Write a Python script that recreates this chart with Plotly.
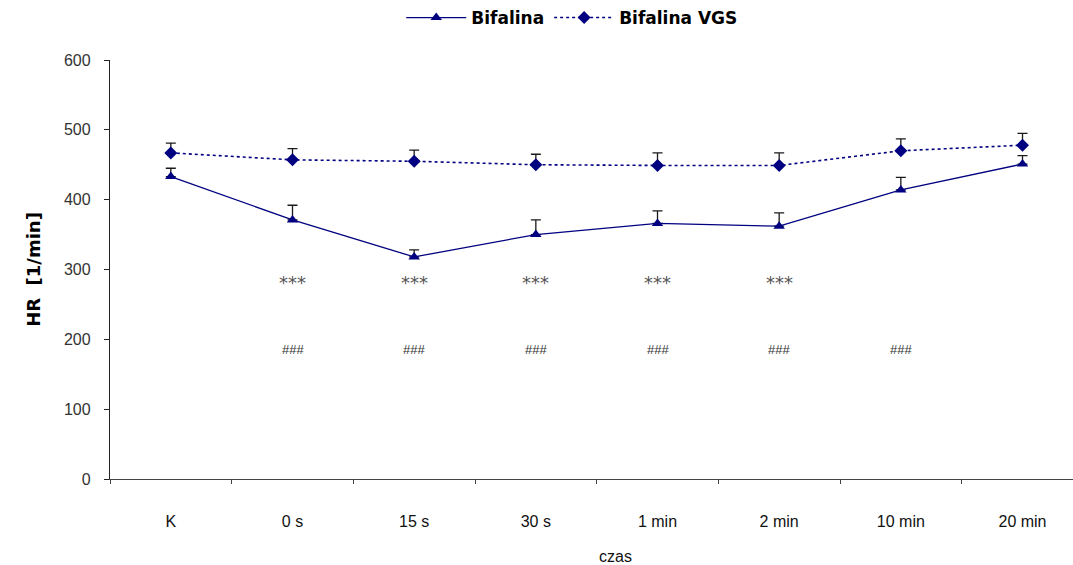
import plotly.graph_objects as go

# Heart rate over time after Bifalina administration
categories = ["K", "0 s", "15 s", "30 s", "1 min", "2 min", "10 min", "20 min"]

bifalina = [433, 371, 318, 350, 366, 362, 414, 451]
bifalina_sem = [12, 21, 10, 21, 18, 19, 18, 12]

bifalina_vgs = [467, 457, 455, 450, 449, 449, 470, 478]
bifalina_vgs_sem = [14, 16, 16, 15, 18, 18, 17, 17]

# significance markers
stars_cats = ["0 s", "15 s", "30 s", "1 min", "2 min"]
stars_level = 281
hash_cats = ["0 s", "15 s", "30 s", "1 min", "2 min", "10 min"]
hash_level = 185

y_ticks = [0, 100, 200, 300, 400, 500, 600]

NAVY = "#000080"

fig = go.Figure()

fig.add_trace(go.Scatter(
    x=categories, y=bifalina, name="Bifalina",
    mode="lines+markers",
    line=dict(color=NAVY, width=1.3),
    marker=dict(symbol="triangle-up", size=10, color=NAVY),
    error_y=dict(type="data", array=bifalina_sem, arrayminus=[0] * len(bifalina_sem),
                 symmetric=False, color="#1a1a1a", thickness=1.3, width=5),
))

fig.add_trace(go.Scatter(
    x=categories, y=bifalina_vgs, name="Bifalina VGS",
    mode="lines+markers",
    line=dict(color=NAVY, width=1.6, dash="dot"),
    marker=dict(symbol="diamond", size=10, color=NAVY),
    error_y=dict(type="data", array=bifalina_vgs_sem, arrayminus=[0] * len(bifalina_vgs_sem),
                 symmetric=False, color="#1a1a1a", thickness=1.3, width=5),
))

annotations = []
for c in stars_cats:
    annotations.append(dict(x=c, y=stars_level, xref="x", yref="y", text="***",
                            showarrow=False, yanchor="middle",
                            font=dict(family="DejaVu Sans", size=18, color="#555555")))
for c in hash_cats:
    annotations.append(dict(x=c, y=hash_level, xref="x", yref="y", text="###",
                            showarrow=False, yanchor="middle",
                            font=dict(family="Liberation Sans", size=13, color="#333333")))

annotations.append(dict(x=0.525, y=-0.186, xref="paper", yref="paper", text="czas",
                        showarrow=False, yanchor="middle",
                        font=dict(family="Liberation Sans", size=16, color="#111111")))

fig.update_layout(
    width=1073, height=565,
    margin=dict(l=110, r=0, t=60, b=86, pad=0),
    paper_bgcolor="white", plot_bgcolor="white",
    showlegend=True,
    legend=dict(orientation="h", x=0.48, xanchor="center", y=1.0, yref="container",
                yanchor="top", font=dict(family="DejaVu Sans", size=17, color="#000000", weight="bold"),
                itemwidth=60, bgcolor="rgba(0,0,0,0)"),
    annotations=annotations,
    xaxis=dict(
        type="category", range=[-0.5, 7.415],
        showline=True, linecolor="#444444", linewidth=1.3,
        ticks="outside", tickson="boundaries", ticklen=4, tickcolor="#444444",
        showgrid=False, zeroline=False,
        tickfont=dict(family="Liberation Sans", size=16, color="#111111"),
        ticklabelstandoff=28,
    ),
    yaxis=dict(
        range=[0, 600], tickvals=y_ticks,
        showline=True, linecolor="#222222", linewidth=1.3,
        ticks="outside", ticklen=5, tickcolor="#222222",
        showgrid=False, zeroline=False,
        tickfont=dict(family="Liberation Sans", size=16, color="#333333"),
        ticklabelstandoff=10,
        title=dict(text="HR  [1/min]", standoff=18,
                   font=dict(family="DejaVu Sans", size=18, color="#000000", weight="bold")),
    ),
)

fig.write_html("out.html")
